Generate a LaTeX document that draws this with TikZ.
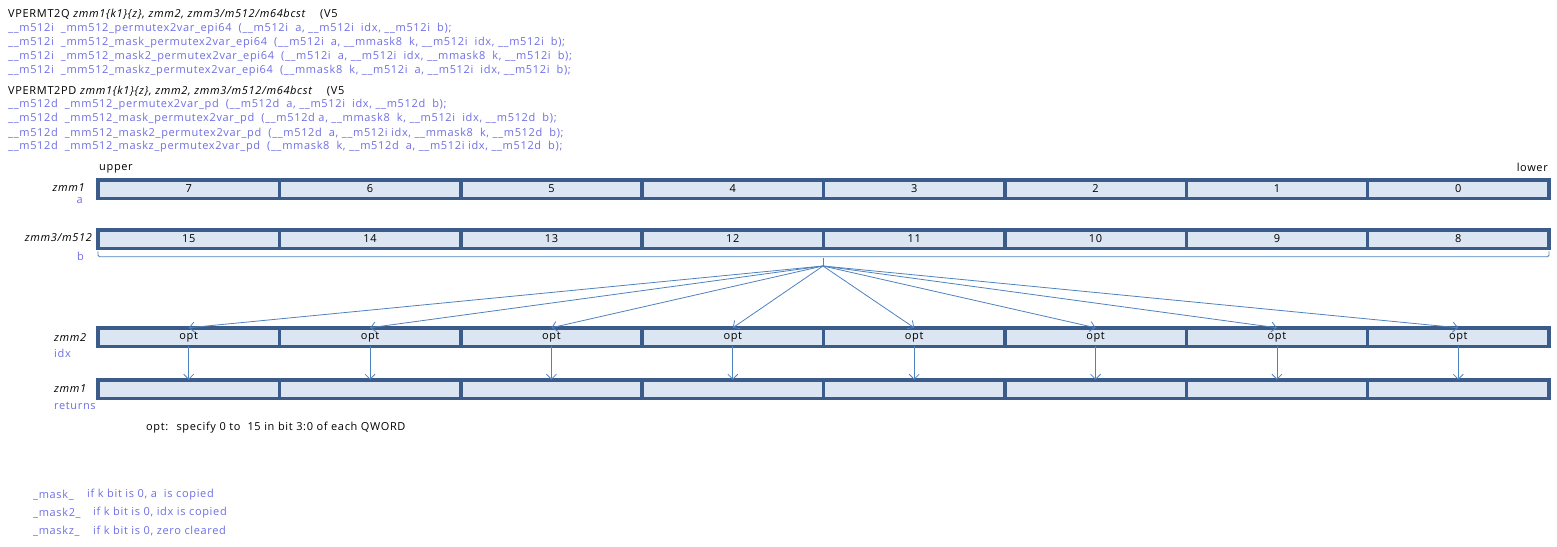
\documentclass[tikz,border=0pt]{standalone}
\usepackage{fontspec}
\setmainfont{Open Sans}[LetterSpace=6]
\usetikzlibrary{arrows.meta}
\definecolor{bord}{RGB}{59,92,138}
\definecolor{cellf}{RGB}{220,230,242}
\definecolor{arr}{RGB}{79,129,189}
\definecolor{blu}{RGB}{110,110,228}
\newcommand\dus{\_\_}
\begin{document}
\begin{tikzpicture}[x=1pt,y=-1pt,
  fnt/.style={font=\fontsize{11}{13}\selectfont},
  cell/.style={fnt,draw=bord,fill=cellf,line width=3.5pt,minimum width=181.375pt,minimum height=18.5pt,inner sep=0pt,outer sep=0pt},
  txt/.style={fnt,inner sep=0pt,anchor=west},
  btxt/.style={txt,text=blu},
  lab/.style={fnt,inner sep=0pt,anchor=east,font=\fontsize{11}{13}\selectfont\itshape},
  fan/.style={draw=arr,line width=0.8pt,-{Straight Barb[length=5pt,width=10pt]}}
]
\useasboundingbox (0,0) rectangle (1557,546);
% header
\node[txt] (h1) at (8,14) {VPERMT2Q \textit{zmm1\{k1\}\{z\}, zmm2, zmm3/m512/m64bcst}~~~~(V5};
\node[btxt] (h2) at (8,29) {\dus m512i~ \_mm512\_permutex2var\_epi64~ (\dus m512i~ a, \dus m512i~ idx, \dus m512i~ b);};
\node[btxt] (h3) at (8,43) {\dus m512i~ \_mm512\_mask\_permutex2var\_epi64~ (\dus m512i~ a, \dus mmask8~ k, \dus m512i~ idx, \dus m512i~ b);};
\node[btxt] (h4) at (8,57) {\dus m512i~ \_mm512\_mask2\_permutex2var\_epi64~ (\dus m512i~ a, \dus m512i~ idx, \dus mmask8~ k, \dus m512i~ b);};
\node[btxt] (h5) at (8,71) {\dus m512i~ \_mm512\_maskz\_permutex2var\_epi64~ (\dus mmask8~ k, \dus m512i~ a, \dus m512i~ idx, \dus m512i~ b);};
\node[txt] (h6) at (8,91) {VPERMT2PD \textit{zmm1\{k1\}\{z\}, zmm2, zmm3/m512/m64bcst}~~~~(V5};
\node[btxt] (h7) at (8,105) {\dus m512d~ \_mm512\_permutex2var\_pd~ (\dus m512d~ a, \dus m512i~ idx, \dus m512d~ b);};
\node[btxt] (h8) at (8,119) {\dus m512d~ \_mm512\_mask\_permutex2var\_pd~ (\dus m512d a, \dus mmask8~ k, \dus m512i~ idx, \dus m512d~ b);};
\node[btxt] (h9) at (8,134) {\dus m512d~ \_mm512\_mask2\_permutex2var\_pd~ (\dus m512d~ a, \dus m512i idx, \dus mmask8~ k, \dus m512d~ b);};
\node[btxt] (h10) at (8,147) {\dus m512d~ \_mm512\_maskz\_permutex2var\_pd~ (\dus mmask8~ k, \dus m512d~ a, \dus m512i idx, \dus m512d~ b);};
% upper / lower
\node[txt] (up) at (99,169) {upper};
\node[txt,anchor=east] (lo) at (1548,167) {lower};
% rows
\foreach \k in {0,...,7}{
  \pgfmathtruncatemacro{\v}{7-\k}
  \pgfmathtruncatemacro{\w}{15-\k}
  \pgfmathsetmacro{\cx}{98+181.375*(\k+0.5)}
  \node[cell] (a\v) at (\cx,189) {\v};
  \node[cell] (b\w) at (\cx,239) {\w};
  \node[cell] (i\v) at (\cx,337) {opt};
  \node[cell] (r\v) at (\cx,389) {};
}
% row labels
\node[lab] (la) at (85,188) {zmm1};
\node[txt,anchor=east,text=blu] (la2) at (83,201) {a};
\node[lab] (lb) at (92,238) {zmm3/m512};
\node[txt,anchor=east,text=blu] (lb2) at (84,256) {b};
\node[lab,anchor=west] (li) at (54,338) {zmm2};
\node[btxt] (li2) at (54,353) {idx};
\node[lab,anchor=west] (lr) at (54,389) {zmm1};
\node[btxt] (lr2) at (54,406) {returns};
% brace and fan
\coordinate (hub) at (823,266);
\draw[arr,line width=0.8pt,rounded corners=1.5pt] ([yshift=-3pt]b15.south west) -- ([yshift=-8.5pt]b15.south west) -- ([yshift=-8.5pt]b8.south east) -- ([yshift=-3pt]b8.south east);
\draw[arr,line width=0.8pt] (823,257.5) -- (hub);
\foreach \v in {0,...,7}{
  \draw[fan] (hub) -- (i\v.north);
  \draw[fan] (i\v.south) -- (r\v.north);
}
% notes
\node[txt] (opt) at (146,428) {opt:~ specify 0 to~ 15 in bit 3:0 of each QWORD};
\node[btxt] (m1) at (33,495) {\_mask\_};
\node[btxt] (m1t) at (87,495) {if k bit is 0, a~ is copied};
\node[btxt] (m2) at (33,513) {\_mask2\_};
\node[btxt] (m2t) at (93,513) {if k bit is 0, idx is copied};
\node[btxt] (m3) at (33,531) {\_maskz\_};
\node[btxt] (m3t) at (93,531) {if k bit is 0, zero cleared};
\end{tikzpicture}
\end{document}
